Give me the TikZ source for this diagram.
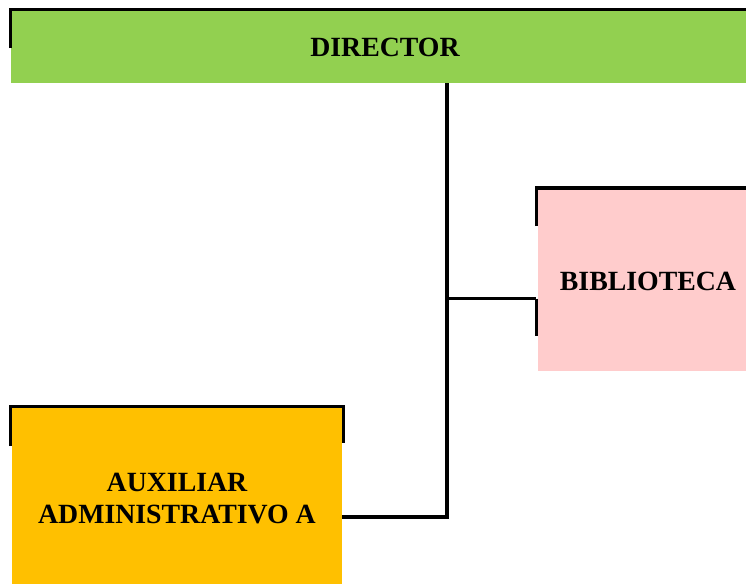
\documentclass[tikz,border=0pt]{standalone}
\usepackage{fontspec}
\setmainfont{Liberation Serif}
\usetikzlibrary{calc}
\definecolor{dirgreen}{RGB}{146,208,80}
\definecolor{bibpink}{RGB}{255,204,204}
\definecolor{auxorange}{RGB}{255,192,0}
\tikzset{
  box/.style={rectangle, inner sep=0pt, draw=none},
  txt/.style={inner sep=0pt, align=center, font=\fontsize{27.8}{32.5}\selectfont\bfseries},
  border/.style={draw=black, line width=3.2pt},
  conn/.style={draw=black, line width=3.6pt}
}
\begin{document}
\begin{tikzpicture}[x=1pt,y=-1pt]
\useasboundingbox (0,0) rectangle (746,584);
% boxes
\node[box, fill=dirgreen, minimum width=735pt, minimum height=72pt] (dir) at (378.5,47) {};
\node[txt] (dirtxt) at (385,47) {DIRECTOR};
\node[box, fill=bibpink, minimum width=208pt, minimum height=181.5pt] (bib) at (642,280.25) {};
\node[txt] (bibtxt) at (648,281) {BIBLIOTECA};
\node[box, fill=auxorange, minimum width=330pt, minimum height=176pt] (aux) at (177,496) {};
\node[txt] (auxtxt) at (177,498.5) {AUXILIAR\\ADMINISTRATIVO A};
% partial borders
\draw[border] (10.5,48) -- (10.5,9.5) -- (746,9.5);
\draw[border] (536.5,226) -- (536.5,188) -- (746,188);
\draw[border] (536.5,298.5) -- (536.5,336);
\draw[border] (10.5,446) -- (10.5,406.5) -- (343.5,406.5) -- (343.5,443);
% connectors
\coordinate (j1) at (447,298.5);
\coordinate (j2) at (447,517);
\draw[conn] (dir.south -| j1) -- (j2) -- (aux.east |- j2);
\draw[conn] (j1) -- ($(bib.west |- j1)+(-1.5,0)$);
\end{tikzpicture}
\end{document}
